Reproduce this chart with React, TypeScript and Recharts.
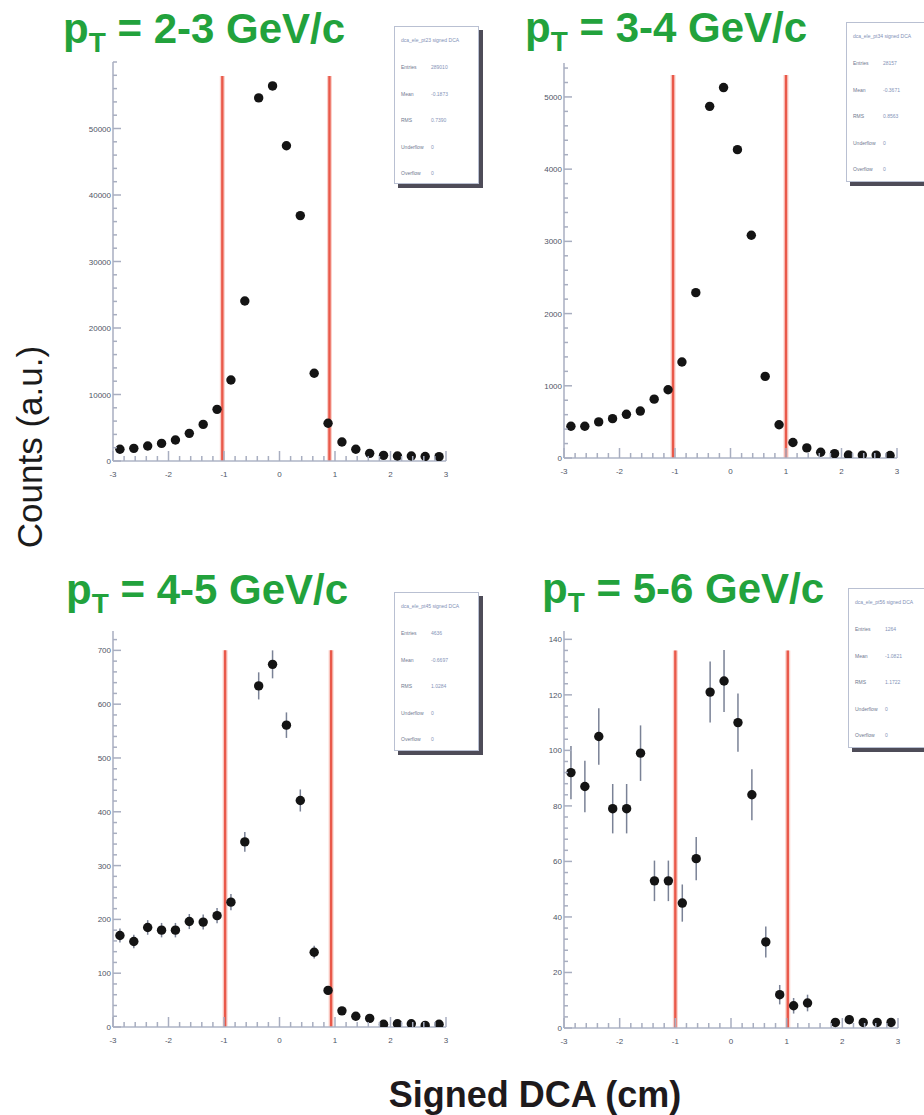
import React from 'react';
import { ScatterChart, Scatter, XAxis, YAxis, ErrorBar, ReferenceLine } from 'recharts';

// Signed DCA bin centres (cm), 0.25 cm wide bins from -3 to 3
const BIN_CENTERS = [
  -2.875, -2.625, -2.375, -2.125, -1.875, -1.625, -1.375, -1.125, -0.875, -0.625, -0.375, -0.125,
  0.125, 0.375, 0.625, 0.875, 1.125, 1.375, 1.625, 1.875, 2.125, 2.375, 2.625, 2.875,
];
const X_TICK_LABELS = [-3, -2, -1, 0, 1, 2, 3];

// Counts per bin for each pT slice
const COUNTS_PT_2_3 = [
  1760, 1900, 2250, 2650, 3160, 4160, 5500, 7770, 12180, 24060, 54600, 56400,
  47400, 36900, 13200, 5670, 2860, 1760, 1150, 850, 750, 750, 680, 650,
];
const COUNTS_PT_3_4 = [
  440, 440, 500, 545, 605, 650, 815, 945, 1330, 2290, 4870, 5130,
  4270, 3085, 1130, 460, 215, 140, 80, 60, 42, 40, 40, 35,
];
const COUNTS_PT_4_5 = [
  170, 159, 185, 180, 180, 196, 195, 207, 232, 344, 634, 674,
  561, 421, 139, 68, 30, 20, 16, 5, 6, 6, 3, 5,
];
const COUNTS_PT_5_6 = [
  92, 87, 105, 79, 79, 99, 53, 53, 45, 61, 121, 125,
  110, 84, 31, 12, 8, 9, 0, 2, 3, 2, 2, 2,
];

// Statistical uncertainties (drawn where they exceed the marker size)
const ERRORS_PT_4_5 = [
  13, 12.6, 13.6, 13.4, 13.4, 14, 14, 14.4, 15.2, 18.5, 25.2, 26,
  23.7, 20.5, 11.8, 8.2, 5.5, 4.5, 4, 2.2, 2.4, 2.4, 1.7, 2.2,
];
const ERRORS_PT_5_6 = [
  9.6, 9.3, 10.2, 8.9, 8.9, 10, 7.3, 7.3, 6.7, 7.8, 11, 11.2,
  10.5, 9.2, 5.6, 3.5, 2.8, 3, 0, 1.4, 1.7, 1.4, 1.4, 1.4,
];

// Y axis labelled ticks
const Y_TICKS_PT_2_3 = [0, 10000, 20000, 30000, 40000, 50000];
const Y_TICKS_PT_3_4 = [0, 1000, 2000, 3000, 4000, 5000];
const Y_TICKS_PT_4_5 = [0, 100, 200, 300, 400, 500, 600, 700];
const Y_TICKS_PT_5_6 = [0, 20, 40, 60, 80, 100, 120, 140];

// DCA cut positions (cm) and the height the cut lines reach
const CUTS_PT_2_3 = [-1.03, 0.9];
const CUTS_PT_3_4 = [-1.035, 1.0];
const CUTS_PT_4_5 = [-0.98, 0.93];
const CUTS_PT_5_6 = [-1.0, 1.02];
const CUT_TOPS = [57900, 5305, 700, 136];

const FONT = '"Liberation Sans", Arial, Helvetica, sans-serif';
const GREEN = '#22a23c';
const AXIS = '#a8aec0';
const TICK_TEXT = '#4f5566';

const minorTicks = (majors: number[], max: number): number[] => {
  const step = (majors[1] - majors[0]) / 5;
  const out: number[] = [];
  for (let k = 0; k * step <= max + 1e-9; k++) out.push(Math.round(k * step * 1000) / 1000);
  return out;
};
const X_TICKS = minorTicks([-3, -2], 6).map((v) => Math.round((v - 3) * 1000) / 1000);

const isMajor = (v: number, majors: number[]) => majors.some((m) => Math.abs(m - v) < 1e-6);

const XTick = (props: any) => {
  const { x, y, payload } = props;
  const v = payload.value;
  const major = isMajor(v, X_TICK_LABELS);
  return (
    <g>
      <line x1={x} x2={x} y1={y} y2={y - (major ? 10 : 5)} stroke={AXIS} strokeWidth={1.5} />
      {major && (
        <text x={x} y={y + 16} textAnchor="middle" fontSize={8} fontFamily={FONT} fill={TICK_TEXT}>
          {v}
        </text>
      )}
    </g>
  );
};

const makeYTick = (majors: number[]) => (props: any) => {
  const { x, y, payload } = props;
  const v = payload.value;
  const major = isMajor(v, majors);
  return (
    <g>
      <line x1={x} x2={x + (major ? 8 : 4)} y1={y} y2={y} stroke={AXIS} strokeWidth={1.5} />
      {major && (
        <text x={x - 2} y={y + 3} textAnchor="end" fontSize={8} fontFamily={FONT} fill={TICK_TEXT}>
          {v}
        </text>
      )}
    </g>
  );
};

type Panel = {
  range: string;
  counts: number[];
  errors?: number[];
  yMax: number;
  yTicks: number[];
  cuts: number[];
  cutTop: number;
  plot: { left: number; top: number; width: number; height: number };
  title: { x: number; y: number };
  box: { left: number; top: number; width: number; height: number };
  rightFrame: string;
};

const PANELS: Panel[] = [
  {
    range: '2-3', counts: COUNTS_PT_2_3, yMax: 60000, yTicks: Y_TICKS_PT_2_3, cuts: CUTS_PT_2_3, cutTop: CUT_TOPS[0],
    plot: { left: 113, top: 62, width: 333, height: 399 }, title: { x: 63, y: 43 },
    box: { left: 394, top: 26, width: 85, height: 158 }, rightFrame: '#d3ddef',
  },
  {
    range: '3-4', counts: COUNTS_PT_3_4, yMax: 5470, yTicks: Y_TICKS_PT_3_4, cuts: CUTS_PT_3_4, cutTop: CUT_TOPS[1],
    plot: { left: 564, top: 63, width: 333, height: 395 }, title: { x: 525, y: 42 },
    box: { left: 846, top: 22, width: 110, height: 160 }, rightFrame: '#9a9ca6',
  },
  {
    range: '4-5', counts: COUNTS_PT_4_5, errors: ERRORS_PT_4_5, yMax: 736, yTicks: Y_TICKS_PT_4_5, cuts: CUTS_PT_4_5, cutTop: CUT_TOPS[2],
    plot: { left: 113, top: 631, width: 333, height: 396 }, title: { x: 66, y: 604 },
    box: { left: 394, top: 592, width: 85, height: 159 }, rightFrame: '#c9d2e4',
  },
  {
    range: '5-6', counts: COUNTS_PT_5_6, errors: ERRORS_PT_5_6, yMax: 143, yTicks: Y_TICKS_PT_5_6, cuts: CUTS_PT_5_6, cutTop: CUT_TOPS[3],
    plot: { left: 564, top: 631, width: 334, height: 397 }, title: { x: 542, y: 603 },
    box: { left: 848, top: 588, width: 110, height: 160 }, rightFrame: '#8e909a',
  },
];

const Marker = (props: any) => {
  const { cx, cy } = props;
  if (cx == null || cy == null || Number.isNaN(cy)) return <g />;
  return <circle cx={cx} cy={cy} r={4.7} fill="#141414" />;
};

// ROOT-style statistics summary for each histogram
const statsFor = (counts: number[]) => {
  const n = counts.reduce((a, b) => a + b, 0);
  const mean = counts.reduce((a, c, i) => a + c * BIN_CENTERS[i], 0) / n;
  const rms = Math.sqrt(counts.reduce((a, c, i) => a + c * (BIN_CENTERS[i] - mean) ** 2, 0) / n);
  return [
    ['Entries', String(Math.round(n))],
    ['Mean', mean.toFixed(4)],
    ['RMS', rms.toFixed(4)],
    ['Underflow', '0'],
    ['Overflow', '0'],
  ];
};

const StatsBox = ({ panel }: { panel: Panel }) => {
  const { box } = panel;
  const rows = statsFor(panel.counts);
  return (
    <div
      style={{
        position: 'absolute', left: box.left, top: box.top, width: box.width, height: box.height,
        background: '#fff', border: '1.5px solid #b9c0d2', boxShadow: '4px 4px 0 #4e4c58',
        boxSizing: 'border-box', fontFamily: FONT, fontSize: 5, color: '#8594b8', lineHeight: '6px',
      }}
    >
      <div style={{ position: 'absolute', left: 6, top: 10, whiteSpace: 'nowrap', color: '#7f90b6' }}>
        dca_ele_pt{panel.range.replace('-', '')} signed DCA
      </div>
      {rows.map(([k, v], i) => (
        <div key={k} style={{ position: 'absolute', left: 6, top: 37 + i * 26.5, whiteSpace: 'nowrap' }}>
          <span style={{ color: '#6f7890' }}>{k}</span>
          <span style={{ position: 'absolute', left: 30 }}>{v}</span>
        </div>
      ))}
    </div>
  );
};

const PanelChart = ({ panel }: { panel: Panel }) => {
  const { plot } = panel;
  const data = BIN_CENTERS.map((x, i) => ({ x, y: panel.counts[i], err: panel.errors ? panel.errors[i] : 0 })).filter(
    (d) => d.y > 0,
  );
  const yTicks = minorTicks(panel.yTicks, panel.yMax);
  return (
    <div style={{ position: 'absolute', left: plot.left - 50, top: plot.top - 10 }}>
      <ScatterChart
        width={plot.width + 60}
        height={plot.height + 40}
        margin={{ top: 10, right: 10, bottom: 0, left: 0 }}
      >
        <XAxis
          dataKey="x"
          type="number"
          domain={[-3, 3]}
          ticks={X_TICKS}
          interval={0}
          tick={XTick}
          tickSize={0}
          tickMargin={0}
          tickLine={false}
          axisLine={{ stroke: '#aeb4c6', strokeWidth: 1.5 }}
          height={30}
          allowDataOverflow
        />
        <XAxis
          xAxisId="frameTop"
          type="number"
          domain={[0, 1]}
          orientation="top"
          height={0}
          tick={false}
          tickLine={false}
          axisLine={{ stroke: '#cdd5e6', strokeWidth: 1.5 }}
        />
        <YAxis
          dataKey="y"
          type="number"
          domain={[0, panel.yMax]}
          ticks={yTicks}
          interval={0}
          tick={makeYTick(panel.yTicks)}
          tickSize={0}
          tickMargin={0}
          tickLine={false}
          axisLine={{ stroke: AXIS, strokeWidth: 1.5 }}
          width={50}
          allowDataOverflow
        />
        <YAxis
          yAxisId="frameRight"
          type="number"
          domain={[0, 1]}
          orientation="right"
          width={0}
          tick={false}
          tickLine={false}
          axisLine={{ stroke: panel.rightFrame, strokeWidth: 1.5 }}
        />
        {panel.cuts.map((c) => (
          <ReferenceLine
            key={`halo${c}`}
            segment={[{ x: c, y: 0 }, { x: c, y: panel.cutTop }]}
            stroke="#fad0ca"
            strokeWidth={5}
            ifOverflow="visible"
          />
        ))}
        {panel.cuts.map((c) => (
          <ReferenceLine
            key={`cut${c}`}
            segment={[{ x: c, y: 0 }, { x: c, y: panel.cutTop }]}
            stroke="#e9594a"
            strokeWidth={2.4}
            ifOverflow="visible"
          />
        ))}
        <Scatter data={data} dataKey="y" shape={Marker} isAnimationActive={false}>
          {panel.errors && (
            <ErrorBar dataKey="err" direction="y" width={0} stroke="#7a8296" strokeWidth={1.5} />
          )}
        </Scatter>
      </ScatterChart>
    </div>
  );
};

export default function App() {
  return (
    <div
      style={{
        position: 'absolute', left: 0, top: 0, width: 924, height: 1115,
        overflow: 'hidden', background: '#fff', fontFamily: FONT,
      }}
    >
      {PANELS.map((p) => (
        <PanelChart key={p.range} panel={p} />
      ))}
      {PANELS.map((p) => (
        <StatsBox key={`s${p.range}`} panel={p} />
      ))}
      <svg width={924} height={1115} style={{ position: 'absolute', left: 0, top: 0, pointerEvents: 'none' }}>
        {PANELS.map((p) => (
          <text key={`t${p.range}`} x={p.title.x} y={p.title.y} fontFamily={FONT} fontWeight="bold" fontSize={42} fill={GREEN}>
            p
            <tspan fontSize={28} dy={9}>T</tspan>
            <tspan fontSize={42} dy={-9}>{` = ${p.range} GeV/c`}</tspan>
          </text>
        ))}
        <text
          transform="translate(42 447) rotate(-90)"
          textAnchor="middle"
          fontFamily={FONT}
          fontSize={35}
          fill="#1b1b1b"
        >
          Counts (a.u.)
        </text>
        <text x={535} y={1107} textAnchor="middle" fontFamily={FONT} fontWeight="bold" fontSize={36} fill="#1e1a1c">
          Signed DCA (cm)
        </text>
      </svg>
    </div>
  );
}
